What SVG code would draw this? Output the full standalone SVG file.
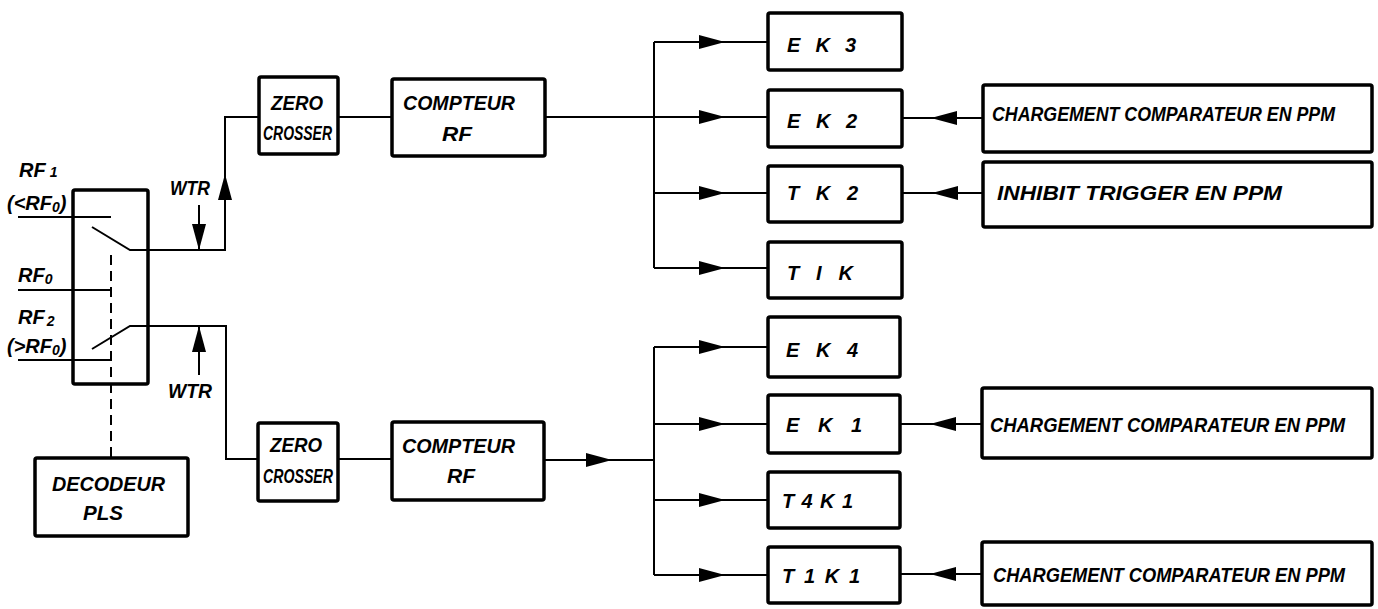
<svg xmlns="http://www.w3.org/2000/svg" width="1378" height="609" viewBox="0 0 1378 609">
<style>
.box{fill:#fff;stroke:#000;stroke-width:3.5}
.ln{fill:none;stroke:#000;stroke-width:2}
.dash{fill:none;stroke:#000;stroke-width:2;stroke-dasharray:10 6}
.t{font-family:"Liberation Sans",Arial,sans-serif;font-style:italic;font-weight:bold;font-size:20px;fill:#000}
.s{font-size:14px}
</style>
<defs>
<path id="ar" d="M0,0 L-26,-7 L-26,7 Z" fill="#000"/>
</defs>
<rect width="1378" height="609" fill="#fff"/>

<g id="switch">
  <rect class="box" x="73" y="190" width="75" height="194" rx="2" style="fill:none"/>
</g>

<g id="connectors">
  <!-- switch inputs -->
  <line class="ln" x1="18" y1="217" x2="111" y2="217"/>
  <line class="ln" x1="18" y1="290" x2="111" y2="290"/>
  <line class="ln" x1="18" y1="360" x2="111" y2="360"/>
  <!-- blades -->
  <polyline class="ln" points="92,227 130,250 225,250 225,117 259,117"/>
  <polyline class="ln" points="92,349 130,326 226,326 226,459 258,459"/>
  <!-- dashed mechanical link -->
  <line class="dash" x1="111" y1="255" x2="111" y2="457"/>
  <!-- WTR arrows -->
  <use href="#ar" transform="translate(225,174) rotate(-90)"/>
  <line class="ln" x1="199" y1="205" x2="199" y2="250"/>
  <use href="#ar" transform="translate(199,250) rotate(90)"/>
  <line class="ln" x1="199" y1="375" x2="199" y2="326"/>
  <use href="#ar" transform="translate(199,326) rotate(-90)"/>
  <!-- top chain -->
  <line class="ln" x1="338" y1="117" x2="392" y2="117"/>
  <line class="ln" x1="545" y1="117" x2="768" y2="117"/>
  <line class="ln" x1="654" y1="42" x2="654" y2="268"/>
  <line class="ln" x1="654" y1="42" x2="768" y2="42"/>
  <line class="ln" x1="654" y1="193" x2="768" y2="193"/>
  <line class="ln" x1="654" y1="268" x2="768" y2="268"/>
  <use href="#ar" transform="translate(725,42)"/>
  <use href="#ar" transform="translate(725,117)"/>
  <use href="#ar" transform="translate(725,193)"/>
  <use href="#ar" transform="translate(725,268)"/>
  <!-- bottom chain -->
  <line class="ln" x1="338" y1="459" x2="392" y2="459"/>
  <line class="ln" x1="544" y1="460" x2="654" y2="460"/>
  <use href="#ar" transform="translate(612,460)"/>
  <line class="ln" x1="654" y1="347" x2="654" y2="575"/>
  <line class="ln" x1="654" y1="347" x2="768" y2="347"/>
  <line class="ln" x1="654" y1="424" x2="768" y2="424"/>
  <line class="ln" x1="654" y1="500" x2="768" y2="500"/>
  <line class="ln" x1="654" y1="575" x2="768" y2="575"/>
  <use href="#ar" transform="translate(725,347)"/>
  <use href="#ar" transform="translate(725,424)"/>
  <use href="#ar" transform="translate(725,500)"/>
  <use href="#ar" transform="translate(725,575)"/>
  <!-- right-side inputs -->
  <line class="ln" x1="902" y1="118" x2="983" y2="118"/>
  <use href="#ar" transform="translate(931,118) rotate(180)"/>
  <line class="ln" x1="902" y1="193" x2="983" y2="193"/>
  <use href="#ar" transform="translate(932,193) rotate(180)"/>
  <line class="ln" x1="900" y1="424" x2="982" y2="424"/>
  <use href="#ar" transform="translate(930,424) rotate(180)"/>
  <line class="ln" x1="900" y1="574" x2="982" y2="574"/>
  <use href="#ar" transform="translate(930,574) rotate(180)"/>
</g>

<g id="labels">
  <text class="t" x="19" y="177">RF<tspan class="s" dx="4">1</tspan></text>
  <text class="t" x="7" y="210">(&lt;RF<tspan class="s" dy="2">0</tspan><tspan dy="-2">)</tspan></text>
  <text class="t" x="18" y="282">RF<tspan class="s" dy="2">0</tspan></text>
  <text class="t" x="18" y="324">RF<tspan class="s" dx="2" dy="2">2</tspan></text>
  <text class="t" x="7" y="353">(&gt;RF<tspan class="s" dy="2">0</tspan><tspan dy="-2">)</tspan></text>
  <text class="t" x="170" y="195" textLength="40" lengthAdjust="spacingAndGlyphs">WTR</text>
  <text class="t" x="168" y="398" textLength="44" lengthAdjust="spacingAndGlyphs">WTR</text>
</g>

<g id="decodeur">
  <rect class="box" x="35" y="458" width="153" height="78" rx="2"/>
  <text class="t" x="52" y="491" textLength="113" lengthAdjust="spacingAndGlyphs">DECODEUR</text>
  <text class="t" x="83" y="520" textLength="40" lengthAdjust="spacingAndGlyphs">PLS</text>
</g>

<g id="zero1">
  <rect class="box" x="259" y="77" width="79" height="77" rx="2"/>
  <text class="t" x="271" y="110" textLength="52" lengthAdjust="spacingAndGlyphs">ZERO</text>
  <text class="t" x="263" y="140" textLength="69" lengthAdjust="spacingAndGlyphs">CROSSER</text>
</g>
<g id="compteur1">
  <rect class="box" x="392" y="79" width="153" height="77" rx="2"/>
  <text class="t" x="403" y="110" textLength="112" lengthAdjust="spacingAndGlyphs">COMPTEUR</text>
  <text class="t" x="442" y="141" textLength="30" lengthAdjust="spacingAndGlyphs">RF</text>
</g>
<g id="zero2">
  <rect class="box" x="258" y="423" width="80" height="78" rx="2"/>
  <text class="t" x="270" y="452" textLength="52" lengthAdjust="spacingAndGlyphs">ZERO</text>
  <text class="t" x="263" y="483" textLength="70" lengthAdjust="spacingAndGlyphs">CROSSER</text>
</g>
<g id="compteur2">
  <rect class="box" x="392" y="422" width="152" height="78" rx="2"/>
  <text class="t" x="402" y="453" textLength="113" lengthAdjust="spacingAndGlyphs">COMPTEUR</text>
  <text class="t" x="447" y="483" textLength="28" lengthAdjust="spacingAndGlyphs">RF</text>
</g>

<g id="ek3">
  <rect class="box" x="768" y="13" width="134" height="57" rx="2"/>
  <text class="t" x="787" y="52" textLength="69" lengthAdjust="spacing">E K 3</text>
</g>
<g id="ek2">
  <rect class="box" x="768" y="90" width="134" height="57" rx="2"/>
  <text class="t" x="787" y="128" textLength="70" lengthAdjust="spacing">E K 2</text>
</g>
<g id="tk2">
  <rect class="box" x="768" y="166" width="134" height="56" rx="2"/>
  <text class="t" x="787" y="200" textLength="71" lengthAdjust="spacing">T K 2</text>
</g>
<g id="tik">
  <rect class="box" x="768" y="242" width="134" height="56" rx="2"/>
  <text class="t" x="787" y="280" textLength="66" lengthAdjust="spacing">T I K</text>
</g>
<g id="ek4">
  <rect class="box" x="768" y="317" width="132" height="60" rx="2"/>
  <text class="t" x="786" y="357" textLength="72" lengthAdjust="spacing">E K 4</text>
</g>
<g id="ek1">
  <rect class="box" x="768" y="395" width="132" height="58" rx="2"/>
  <text class="t" x="786" y="432" textLength="76" lengthAdjust="spacing">E K 1</text>
</g>
<g id="t4k1">
  <rect class="box" x="768" y="472" width="132" height="56" rx="2"/>
  <text class="t" x="782" y="508" textLength="71" lengthAdjust="spacing">T4K1</text>
</g>
<g id="t1k1">
  <rect class="box" x="768" y="547" width="132" height="56" rx="2"/>
  <text class="t" x="782" y="583" textLength="78" lengthAdjust="spacing">T1K1</text>
</g>

<g id="charg1">
  <rect class="box" x="983" y="85" width="389" height="67" rx="2"/>
  <text class="t" x="992" y="121" textLength="343" lengthAdjust="spacingAndGlyphs">CHARGEMENT COMPARATEUR EN PPM</text>
</g>
<g id="inhibit">
  <rect class="box" x="983" y="162" width="389" height="65" rx="2"/>
  <text class="t" x="997" y="200" textLength="285" lengthAdjust="spacingAndGlyphs">INHIBIT  TRIGGER  EN  PPM</text>
</g>
<g id="charg2">
  <rect class="box" x="982" y="388" width="390" height="70" rx="2"/>
  <text class="t" x="990" y="432" textLength="355" lengthAdjust="spacingAndGlyphs">CHARGEMENT  COMPARATEUR  EN  PPM</text>
</g>
<g id="charg3">
  <rect class="box" x="982" y="542" width="390" height="63" rx="2"/>
  <text class="t" x="993" y="582" textLength="352" lengthAdjust="spacingAndGlyphs">CHARGEMENT  COMPARATEUR  EN  PPM</text>
</g>
</svg>
